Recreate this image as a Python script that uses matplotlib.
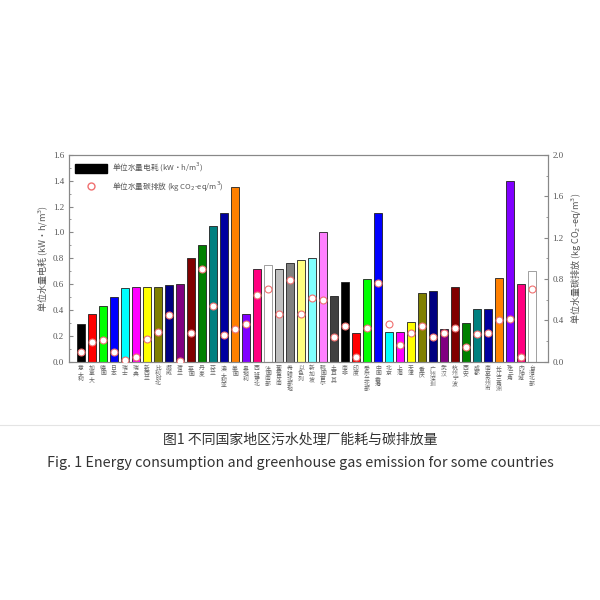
import matplotlib.pyplot as plt
from matplotlib.ticker import MultipleLocator
from matplotlib.lines import Line2D
from matplotlib.patches import Patch

plt.rcParams['font.family'] = ['Liberation Serif', 'Noto Sans CJK SC', 'DejaVu Sans']

# region names (vertical labels under each bar)
regions = ['意大利', '加拿大', '德国', '日本', '瑞士', '瑞典', '新西兰', '比利时北', '挪威', '荷兰',
           '英国', '丹麦', '芬兰', '澳大利亚', '美国', '奥地利', '西班牙北', '法国南部', '葡萄牙南', '希腊北部地',
           '以色列', '新加坡', '韩国首尔', '土耳其', '南非', '印度', '爱尔兰北部', '中国香港', '北京', '上海',
           '天津', '重庆', '广州深圳', '武汉', '杭州宁波', '西安', '成都', '南京苏州市', '长江三角洲', '珠三角',
           '内陆城', '台湾北部']

# unit electricity consumption, kW·h/m3 (left axis)
energy = [0.29, 0.37, 0.43, 0.50, 0.57, 0.58, 0.58, 0.58, 0.59, 0.60,
          0.80, 0.90, 1.05, 1.15, 1.35, 0.37, 0.72, 0.75, 0.72, 0.76,
          0.79, 0.80, 1.00, 0.51, 0.62, 0.22, 0.64, 1.15, 0.23, 0.23,
          0.31, 0.53, 0.55, 0.25, 0.58, 0.30, 0.41, 0.41, 0.65, 1.40,
          0.60, 0.70]

# unit carbon emission, kg CO2-eq/m3 (right axis)
emission = [0.094, 0.19, 0.21, 0.094, 0.016, 0.043, 0.22, 0.29, 0.45, 0.01,
            0.275, 0.90, 0.54, 0.26, 0.32, 0.365, 0.65, 0.70, 0.46, 0.79,
            0.46, 0.62, 0.60, 0.24, 0.35, 0.043, 0.33, 0.76, 0.37, 0.16,
            0.275, 0.35, 0.24, 0.275, 0.33, 0.14, 0.27, 0.275, 0.40, 0.41,
            0.05, 0.70]

# Origin default colour cycle
origin_colors = ['#000000', '#FF0000', '#00FF00', '#0000FF', '#00FFFF', '#FF00FF',
                 '#FFFF00', '#808000', '#000080', '#800080', '#800000', '#008000',
                 '#008080', '#0000A0', '#FF8000', '#8000FF', '#FF0080', '#FFFFFF',
                 '#C0C0C0', '#808080', '#FFFF80', '#80FFFF', '#FF80FF', '#404040']

colors = [origin_colors[i % len(origin_colors)] for i in range(len(energy))]
edges = ['#909090' if c == '#FFFFFF' else '#202020' for c in colors]
x = list(range(len(energy)))

fig = plt.figure(figsize=(6, 6), dpi=100)
ax = fig.add_axes([0.115, 0.397, 0.798, 0.345])
ax2 = ax.twinx()

ax.bar(x, energy, width=0.68, color=colors, edgecolor=edges, linewidth=0.6, zorder=2)
ax2.plot(x, emission, 'o', markersize=5, markerfacecolor='white',
         markeredgecolor='#F07070', markeredgewidth=0.8, zorder=3)

ax.set_xlim(-1.09, 42.43)
ax.set_ylim(0, 1.6)
ax2.set_ylim(0, 2.0)
ax.yaxis.set_major_locator(MultipleLocator(0.2))
ax.yaxis.set_minor_locator(MultipleLocator(0.1))
ax2.yaxis.set_major_locator(MultipleLocator(0.4))
ax2.yaxis.set_minor_locator(MultipleLocator(0.2))

tick_color = '#555555'
for a in (ax, ax2):
    for s in a.spines.values():
        s.set_color('#888888')
        s.set_linewidth(0.8)
    a.tick_params(axis='y', which='both', direction='in', colors='#888888',
                  labelcolor=tick_color, labelsize=6.5)
    a.tick_params(axis='y', which='major', length=3)
    a.tick_params(axis='y', which='minor', length=1.5)

ax.yaxis.set_major_formatter(lambda v, p: f'{v:.1f}')
ax2.yaxis.set_major_formatter(lambda v, p: f'{v:.1f}')

ax.set_xticks(x)
ax.set_xticklabels(['\n'.join(r) for r in regions], fontsize=4.2,
                   color='#666666', va='top', linespacing=1.0,
                   family=['Noto Sans CJK SC', 'DejaVu Sans'])
ax.tick_params(axis='x', length=0, pad=3)

ax.set_ylabel('单位水量电耗 (kW·h/m$^3$)', fontsize=6.5, color=tick_color,
              family=['Noto Sans CJK SC', 'DejaVu Sans'], labelpad=2)
ax2.set_ylabel('单位水量碳排放 (kg CO$_2$-eq/m$^3$)', fontsize=6.5, color=tick_color,
               family=['Noto Sans CJK SC', 'DejaVu Sans'], labelpad=4)

handles = [Patch(facecolor='black', edgecolor='black'),
           Line2D([], [], marker='o', linestyle='none', markersize=5,
                  markerfacecolor='white', markeredgecolor='#F07070')]
ax.legend(handles, ['单位水量电耗 (kW·h/m$^3$)', '单位水量碳排放 (kg CO$_2$-eq/m$^3$)'],
          loc='upper left', frameon=False, handlelength=4.2,
          handleheight=1.5, borderaxespad=0.4, labelspacing=0.7, handletextpad=0.6,
          prop={'family': ['Noto Sans CJK SC', 'DejaVu Sans'], 'size': 5.5},
          labelcolor='#555555')

# separator and captions below the chart
fig.add_artist(Line2D([0, 1], [1 - 425 / 600, 1 - 425 / 600], color='#E4E4E4', linewidth=0.8))
fig.text(0.5, 1 - 440 / 600, '图1 不同国家地区污水处理厂能耗与碳排放量', ha='center', va='center',
         fontsize=10, color='#333333', family=['Noto Sans CJK SC', 'DejaVu Sans'])
fig.text(0.5, 1 - 463 / 600,
         'Fig. 1 Energy consumption and greenhouse gas emission for some countries',
         ha='center', va='center', fontsize=10.3, color='#333333',
         family=['Noto Sans CJK SC', 'DejaVu Sans'])

fig.savefig('out.png', dpi=100)
